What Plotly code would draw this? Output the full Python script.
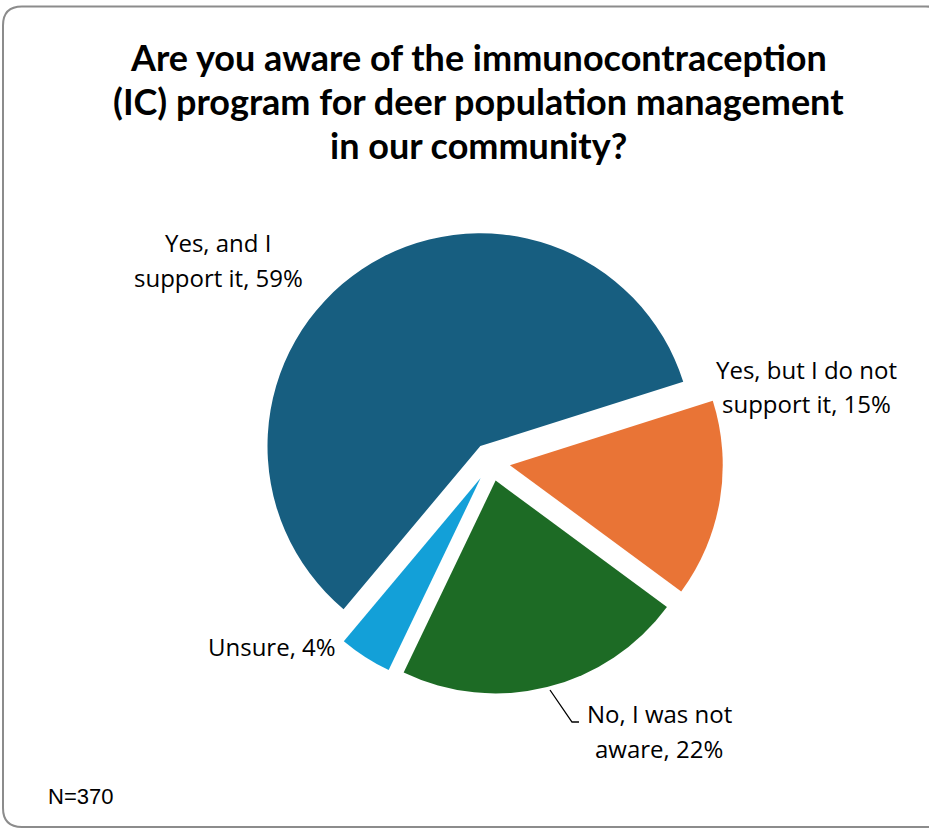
import plotly.graph_objects as go

# ---- data ----
categories = ["Yes, and I support it", "Yes, but I do not support it",
              "No, I was not aware", "Unsure"]
values = [59, 15, 22, 4]
colors = ["#175E80", "#E97436", "#1D6B25", "#13A0D8"]
label_lines = [["Yes, and I", "support it, 59%"],
               ["Yes, but I do not", "support it, 15%"],
               ["No, I was not", "aware, 22%"],
               ["Unsure, 4%"]]
title_lines = ["Are you aware of the immunocontraception",
               "(IC) program for deer population management",
               "in our community?"]
note_text = "N=370"

W, H = 929, 828
TITLE_FONT = "Lato"
LABEL_FONT = "Open Sans"

def px(x):
    return x / W

def py(y):
    return 1 - y / H

# pie placement (pixels)
cx, cy, half = 491, 462, 232
fig = go.Figure(go.Pie(
    labels=categories, values=values, sort=False,
    direction="clockwise", rotation=220, pull=0.09,
    marker=dict(colors=colors, line=dict(width=0)),
    textinfo="none", hoverinfo="label+percent",
    domain=dict(x=[px(cx - half), px(cx + half)], y=[py(cy + half), py(cy - half)]),
    showlegend=False,
))

ann = []
# title lines
for i, t in enumerate(title_lines):
    ann.append(dict(text=f"<b>{t}</b>", x=px(478), y=py(57 + 44 * i),
                    xref="paper", yref="paper", showarrow=False,
                    xanchor="center", yanchor="middle",
                    font=dict(family=TITLE_FONT, size=36, color="#000000")))

# slice labels: (x, first-line mid y, anchor)
label_pos = [(218, 243, "center"), (806, 369, "center"),
             (659, 713, "center"), (338, 646, "right")]
for lines, (lx, ly, anc) in zip(label_lines, label_pos):
    for j, t in enumerate(lines):
        ann.append(dict(text=t, x=px(lx), y=py(ly + 35 * j),
                        xref="paper", yref="paper", showarrow=False,
                        xanchor=anc, yanchor="middle",
                        font=dict(family=LABEL_FONT, size=24, color="#000000")))

ann.append(dict(text=note_text, x=px(46), y=py(796), xref="paper", yref="paper",
                showarrow=False, xanchor="left", yanchor="middle",
                font=dict(family="Liberation Sans, Arial", size=22, color="#000000")))

# rounded border (pixel coords -> paper)
x0, y0, x1, y1, r = 3, 6.5, 945, 827, 19
def P(x, y):
    return f"{px(x):.5f},{py(y):.5f}"
border = (f"M {P(x0 + r, y0)} L {P(x1 - r, y0)} Q {P(x1, y0)} {P(x1, y0 + r)} "
          f"L {P(x1, y1 - r)} Q {P(x1, y1)} {P(x1 - r, y1)} "
          f"L {P(x0 + r, y1)} Q {P(x0, y1)} {P(x0, y1 - r)} "
          f"L {P(x0, y0 + r)} Q {P(x0, y0)} {P(x0 + r, y0)} Z")
leader = f"M {P(550, 690)} L {P(572, 722)} L {P(579, 722)}"

fig.update_layout(
    width=W, height=H,
    margin=dict(l=0, r=0, t=0, b=0),
    paper_bgcolor="white", plot_bgcolor="white",
    annotations=ann,
    shapes=[
        dict(type="path", path=border, xref="paper", yref="paper",
             line=dict(color="#8C8C8C", width=2), fillcolor="rgba(0,0,0,0)"),
        dict(type="path", path=leader, xref="paper", yref="paper",
             line=dict(color="#000000", width=1.3)),
    ],
)

fig.write_html("out.html", config={"displayModeBar": False},
               post_script="document.body.style.margin='0';document.body.style.padding='0';")
